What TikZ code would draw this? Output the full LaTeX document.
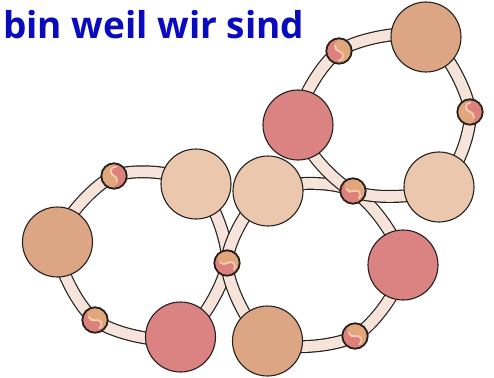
\documentclass[tikz,border=0pt]{standalone}
\usepackage{fontspec}
\setmainfont{Open Sans}
\definecolor{titleblue}{RGB}{10,10,190}
\definecolor{bigtanc}{RGB}{220,166,132}
\definecolor{bigpinkc}{RGB}{219,130,130}
\definecolor{lighttanc}{RGB}{234,199,173}
\definecolor{tubec}{RGB}{246,228,218}
\definecolor{edgec}{RGB}{35,32,30}
\definecolor{smalltanc}{RGB}{226,166,124}
\definecolor{smallpinkc}{RGB}{222,128,124}
\definecolor{swirlc}{RGB}{244,206,176}
\newcommand\swirl[2]{%
  \begin{scope}[shift={(#1.center)},x=1pt,y=1pt,rotate=#2]
    \fill[smallpinkc] (0,11.5) arc[start angle=90,end angle=270,radius=11.5]
      arc[start angle=270,end angle=450,radius=5.75]
      arc[start angle=270,end angle=90,radius=5.75] -- cycle;
    \draw[swirlc,line width=1.8pt,line cap=round] (1.2,-9.5) arc[start angle=280,end angle=450,radius=4.6]
      arc[start angle=270,end angle=180,radius=5.2];
  \end{scope}}
\tikzset{
  big/.style={circle,draw=edgec,line width=1.1pt,minimum size=70pt,inner sep=0pt},
  bigtan/.style={big,fill=bigtanc},
  bigpink/.style={big,fill=bigpinkc},
  lighttan/.style={big,fill=lighttanc},
  small/.style={circle,draw=edgec,line width=1.2pt,minimum size=26pt,inner sep=0pt,fill=smalltanc},
  tubeout/.style={draw=edgec,line width=13pt},
  tubein/.style={draw=tubec,line width=10.6pt},
}
\begin{document}
\begin{tikzpicture}[x=1pt,y=-1pt]
\useasboundingbox (0,0) rectangle (494,377);
% ring 2 (left)
\draw[tubeout] plot[smooth cycle] coordinates{(196,184) (227,263) (180.5,337) (95,320) (57.5,242) (114,176)};
\draw[tubein] plot[smooth cycle] coordinates{(196,184) (227,263) (180.5,337) (95,320) (57.5,242) (114,176)};
% ring 3 (middle)
\draw[tubeout] plot[smooth cycle] coordinates{(268,191) (353,191) (403,265) (355,336) (267.5,341) (227,263)};
\draw[tubein] plot[smooth cycle] coordinates{(268,191) (353,191) (403,265) (355,336) (267.5,341) (227,263)};
% ring 1 (top right)
\draw[tubeout] plot[smooth cycle] coordinates{(426,37) (470,112) (439,187) (353,191) (298,125) (339,51)};
\draw[tubein] plot[smooth cycle] coordinates{(426,37) (470,112) (439,187) (353,191) (298,125) (339,51)};
% big nodes
\node[bigtan] (r1a) at (426,37) {};
\node[bigpink] (r1b) at (298,125) {};
\node[lighttan] (r1c) at (439,187) {};
\node[lighttan] (r2a) at (196,184) {};
\node[bigtan] (r2b) at (57.5,242) {};
\node[bigpink] (r2c) at (180.5,337) {};
\node[lighttan] (r3a) at (268,191) {};
\node[bigpink] (r3b) at (403,265) {};
\node[bigtan] (r3c) at (267.5,341) {};
% small nodes
\node[small] (s1) at (339,51) {};
\node[small] (s2) at (470,112) {};
\node[small] (s3) at (353,191) {};
\node[small] (s4) at (114,176) {};
\node[small] (s5) at (95,320) {};
\node[small] (s6) at (227,263) {};
\node[small] (s7) at (355,336) {};
\swirl{s1}{-10}
\swirl{s2}{170}
\swirl{s3}{30}
\swirl{s4}{160}
\swirl{s5}{20}
\swirl{s6}{40}
\swirl{s7}{20}
\foreach \n in {s1,s2,s3,s4,s5,s6,s7}{\draw[edgec,line width=1.2pt] (\n.center) circle[radius=12.4pt];}
% title
\node[anchor=base west,inner sep=0pt,text=titleblue,font=\fontsize{37}{40}\selectfont\bfseries] (title) at (3,39) {bin weil wir sind};
\end{tikzpicture}
\end{document}
